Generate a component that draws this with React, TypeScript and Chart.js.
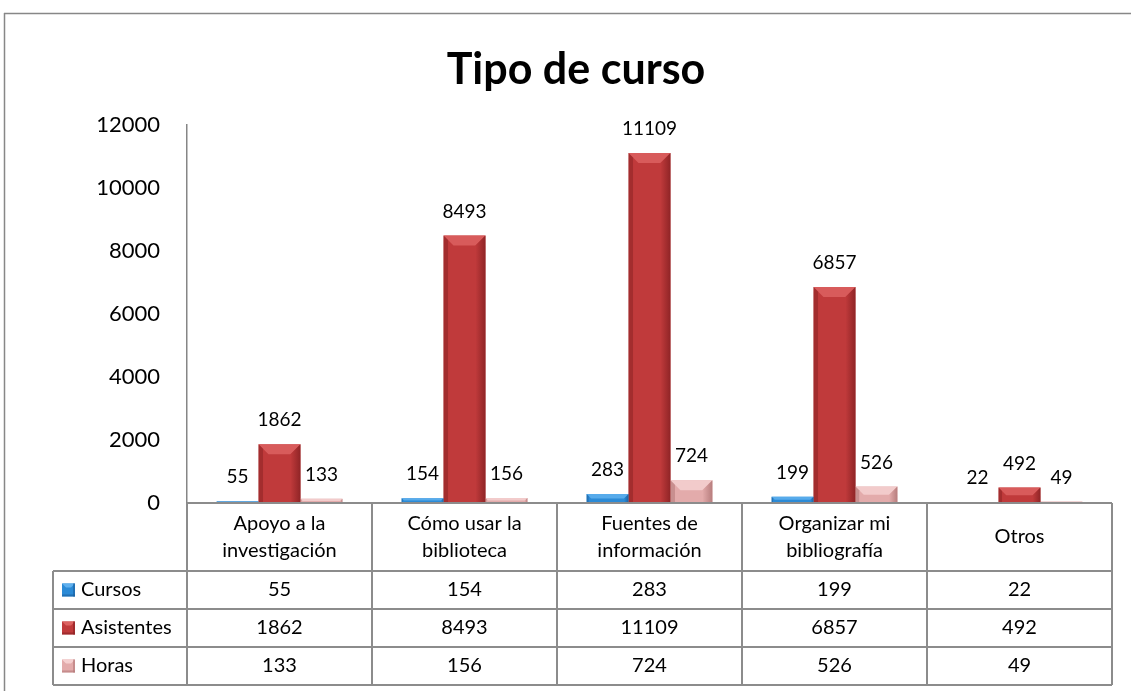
import React, { useEffect, useRef } from "react";
import { Chart, registerables } from "chart.js";

Chart.register(...registerables);

const titleText = "Tipo de curso";
const categories: string[][] = [
  ["Apoyo a la", "investigación"],
  ["Cómo usar la", "biblioteca"],
  ["Fuentes de", "información"],
  ["Organizar mi", "bibliografía"],
  ["Otros"],
];
const seriesNames = ["Cursos", "Asistentes", "Horas"];
const cursos = [55, 154, 283, 199, 22];
const asistentes = [1862, 8493, 11109, 6857, 492];
const horas = [133, 156, 724, 526, 49];
const yMin = 0;
const yMax = 12000;
const yStep = 2000;

const FONT = "Lato, 'Open Sans', sans-serif";
const palette = [
  { base: "#2b8ad6", light: "#5fb0ee", dark: "#1b5f9c" },
  { base: "#c03a3b", light: "#dc6261", dark: "#8a2224" },
  { base: "#e3abab", light: "#f5d0d0", dark: "#b27878" },
];
const GRID = "#8c8c8c";
const PAD_LEFT = 40;

const bevelPlugin = {
  id: "bevel",
  afterDatasetsDraw(chart: any) {
    const ctx = chart.ctx;
    chart.data.datasets.forEach((ds: any, di: number) => {
      const meta = chart.getDatasetMeta(di);
      const col = palette[di];
      meta.data.forEach((bar: any) => {
        const w = bar.width;
        const l = bar.x - w / 2;
        const r = bar.x + w / 2;
        const t = Math.min(bar.y, bar.base);
        const b = Math.max(bar.y, bar.base);
        const h = b - t;
        if (h < 3) return;
        const d = Math.min(10, h / 2, w / 3);
        ctx.save();
        ctx.beginPath();
        ctx.moveTo(l, t);
        ctx.lineTo(r, t);
        ctx.lineTo(r - d, t + d);
        ctx.lineTo(l + d, t + d);
        ctx.closePath();
        ctx.fillStyle = col.light;
        ctx.globalAlpha = 0.85;
        ctx.fill();
        ctx.beginPath();
        ctx.moveTo(r, t);
        ctx.lineTo(r, b);
        ctx.lineTo(r - d, b);
        ctx.lineTo(r - d, t + d);
        ctx.closePath();
        const g = ctx.createLinearGradient(r - d, 0, r, 0);
        g.addColorStop(0, col.base);
        g.addColorStop(1, col.dark);
        ctx.fillStyle = g;
        ctx.globalAlpha = 0.9;
        ctx.fill();
        ctx.beginPath();
        ctx.moveTo(l, t);
        ctx.lineTo(l + d * 0.45, t + d * 0.45);
        ctx.lineTo(l + d * 0.45, b);
        ctx.lineTo(l, b);
        ctx.closePath();
        ctx.fillStyle = col.dark;
        ctx.globalAlpha = 0.55;
        ctx.fill();
        ctx.restore();
      });
    });
  },
};

const labelPlugin = {
  id: "valueLabels",
  afterDatasetsDraw(chart: any) {
    const ctx = chart.ctx;
    ctx.save();
    ctx.font = `19px ${FONT}`;
    ctx.fillStyle = "#000";
    ctx.textAlign = "center";
    ctx.textBaseline = "middle";
    chart.data.datasets.forEach((ds: any, di: number) => {
      const meta = chart.getDatasetMeta(di);
      meta.data.forEach((bar: any, i: number) => {
        ctx.fillText(String(ds.data[i]), bar.x, bar.y - 24);
      });
    });
    ctx.restore();
  },
};

const tablePlugin = {
  id: "dataTable",
  afterDraw(chart: any) {
    const ctx = chart.ctx;
    const area = chart.chartArea;
    const xs = chart.scales.x;
    const n = categories.length;
    const cw = (area.right - area.left) / n;
    const headTop = area.bottom;
    const headBottom = headTop + 68;
    const rowH = 38;
    const legLeft = 53;
    const rowsBottom = headBottom + rowH * seriesNames.length;
    ctx.save();
    ctx.strokeStyle = "#878787";
    ctx.lineWidth = 1.5;
    ctx.beginPath();
    ctx.moveTo(4, 13.5);
    ctx.lineTo(chart.width, 13.5);
    ctx.moveTo(4.5, 13);
    ctx.lineTo(4.5, chart.height);
    ctx.stroke();

    ctx.strokeStyle = GRID;
    ctx.lineWidth = 2;
    ctx.beginPath();
    ctx.moveTo(area.left, headTop);
    ctx.lineTo(area.right, headTop);
    for (let r = 0; r <= seriesNames.length; r++) {
      const y = headBottom + r * rowH;
      ctx.moveTo(legLeft, y);
      ctx.lineTo(area.right, y);
    }
    ctx.moveTo(legLeft, headBottom);
    ctx.lineTo(legLeft, rowsBottom);
    for (let i = 0; i <= n; i++) {
      const x = area.left + i * cw;
      ctx.moveTo(x, headTop);
      ctx.lineTo(x, rowsBottom);
    }
    ctx.stroke();

    ctx.fillStyle = "#000";
    ctx.font = `20px ${FONT}`;
    ctx.textAlign = "center";
    ctx.textBaseline = "middle";
    categories.forEach((lines, i) => {
      const cx = xs.getPixelForValue(i);
      const cy = (headTop + headBottom) / 2;
      const lh = 27;
      lines.forEach((ln, k) => {
        ctx.fillText(ln, cx, cy + (k - (lines.length - 1) / 2) * lh);
      });
    });
    const rows = [cursos, asistentes, horas];
    rows.forEach((vals, r) => {
      const cy = headBottom + r * rowH + rowH / 2;
      vals.forEach((v, i) => {
        ctx.textAlign = "center";
        ctx.fillText(String(v), xs.getPixelForValue(i), cy);
      });
      const col = palette[r];
      const kx = 62, ks = 13, ky = cy - ks / 2;
      ctx.fillStyle = col.base;
      ctx.fillRect(kx, ky, ks, ks);
      ctx.beginPath();
      ctx.moveTo(kx, ky);
      ctx.lineTo(kx + ks, ky);
      ctx.lineTo(kx + ks - 4, ky + 4);
      ctx.lineTo(kx + 4, ky + 4);
      ctx.closePath();
      ctx.fillStyle = col.light;
      ctx.fill();
      ctx.fillStyle = col.dark;
      ctx.globalAlpha = 0.6;
      ctx.fillRect(kx + ks - 2, ky, 2, ks);
      ctx.fillRect(kx, ky + ks - 2, ks, 2);
      ctx.globalAlpha = 1;
      ctx.fillStyle = "#000";
      ctx.textAlign = "left";
      ctx.fillText(seriesNames[r], 81, cy);
    });
    ctx.restore();
  },
};

export default function App() {
  const ref = useRef<HTMLCanvasElement | null>(null);
  useEffect(() => {
    if (!ref.current) return;
    const chart = new Chart(ref.current, {
      type: "bar",
      data: {
        labels: categories.map((c) => c.join(" ")),
        datasets: [
          { label: seriesNames[0], data: cursos, backgroundColor: palette[0].base },
          { label: seriesNames[1], data: asistentes, backgroundColor: palette[1].base },
          { label: seriesNames[2], data: horas, backgroundColor: palette[2].base },
        ],
      },
      options: {
        responsive: false,
        animation: false,
        layout: { padding: { left: PAD_LEFT, right: 19, top: 0, bottom: 188 } },
        datasets: { bar: { categoryPercentage: 0.68, barPercentage: 1 } },
        plugins: {
          legend: { display: false },
          tooltip: { enabled: false },
          title: {
            display: true,
            text: titleText,
            color: "#000",
            font: { family: FONT, size: 43, weight: "bold", lineHeight: 1.2 },
            padding: { top: 44, bottom: 29.4 },
          },
        },
        scales: {
          x: { display: false },
          y: {
            min: yMin,
            max: yMax,
            ticks: {
              stepSize: yStep,
              color: "#000",
              font: { family: FONT, size: 22 },
              padding: 27,
              callback: (v: any) => String(v),
            },
            grid: { display: false, drawTicks: false },
            border: { display: true, color: "#868686", width: 1.5 },
            afterFit: (scale: any) => {
              scale.width = 187 - PAD_LEFT;
            },
          },
        },
      },
      plugins: [bevelPlugin, labelPlugin, tablePlugin],
    });
    return () => chart.destroy();
  }, []);
  return (
    <div style={{ position: "absolute", left: 0, top: 0, width: 1131, height: 691, background: "#fff" }}>
      <canvas ref={ref} width={1131} height={691} />
    </div>
  );
}
